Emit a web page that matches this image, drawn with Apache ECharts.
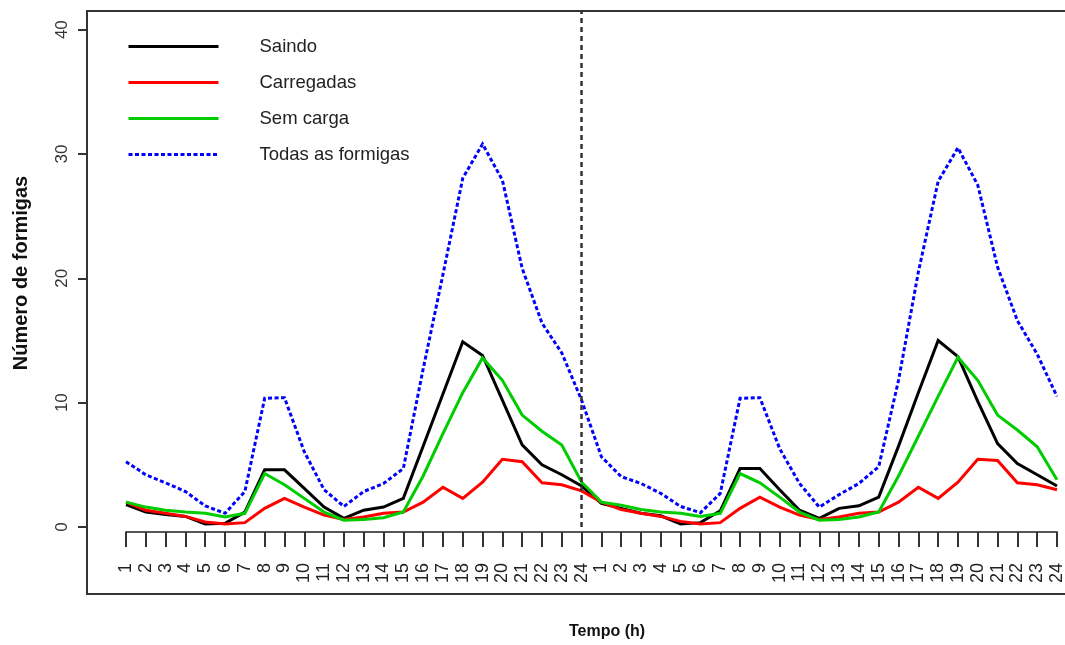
<!DOCTYPE html>
<html>
<head>
<meta charset="utf-8">
<script src="https://cdn.jsdelivr.net/npm/echarts@6/dist/echarts.min.js"></script>
<style>
  html, body { margin: 0; padding: 0; background: #fff; overflow: hidden; width: 1065px; height: 645px; }
  #chart { width: 1120px; height: 645px; }
</style>
</head>
<body>
<div id="chart"></div>
<script>
// Hour labels for two consecutive days
const hourLabels = ['1','2','3','4','5','6','7','8','9','10','11','12','13','14','15','16','17','18','19','20','21','22','23','24',
                    '1','2','3','4','5','6','7','8','9','10','11','12','13','14','15','16','17','18','19','20','21','22','23','24'];

const seriesNames = ['Saindo', 'Carregadas', 'Sem carga', 'Todas as formigas'];

// Mean number of ants per hour
const saindo = [1.8, 1.2, 1.0, 0.85, 0.25, 0.3, 1.2, 4.6, 4.6, 3.1, 1.6, 0.7, 1.35, 1.6, 2.3, 6.5, 10.7, 14.9, 13.8, 10.2, 6.6, 5.0, 4.2, 3.3,
                1.9, 1.5, 1.1, 0.9, 0.25, 0.35, 1.3, 4.7, 4.7, 3.0, 1.35, 0.7, 1.5, 1.7, 2.4, 6.5, 10.8, 15.0, 13.7, 10.1, 6.7, 5.1, 4.2, 3.3];
const carregadas = [2.0, 1.35, 1.1, 0.85, 0.4, 0.25, 0.35, 1.5, 2.3, 1.6, 0.95, 0.6, 0.8, 1.1, 1.2, 2.0, 3.2, 2.3, 3.6, 5.45, 5.25, 3.55, 3.4, 2.9,
                    2.0, 1.4, 1.1, 0.85, 0.45, 0.25, 0.35, 1.5, 2.4, 1.6, 0.95, 0.6, 0.8, 1.1, 1.2, 2.0, 3.2, 2.3, 3.6, 5.45, 5.35, 3.55, 3.4, 3.0];
const semCarga = [2.0, 1.6, 1.35, 1.2, 1.1, 0.8, 1.1, 4.3, 3.4, 2.3, 1.2, 0.55, 0.6, 0.75, 1.2, 4.1, 7.5, 10.8, 13.6, 11.8, 9.0, 7.7, 6.6, 3.6,
                  2.0, 1.75, 1.4, 1.2, 1.1, 0.85, 1.1, 4.3, 3.55, 2.4, 1.2, 0.55, 0.6, 0.8, 1.2, 4.1, 7.3, 10.5, 13.65, 11.8, 9.0, 7.8, 6.45, 3.8];
const todas = [5.25, 4.2, 3.55, 2.85, 1.7, 1.1, 2.85, 10.35, 10.4, 6.05, 3.0, 1.65, 2.85, 3.5, 4.7, 12.7, 20.3, 28.05, 30.8, 27.9, 20.8, 16.4, 14.0, 10.2,
               5.65, 4.05, 3.5, 2.7, 1.65, 1.15, 2.7, 10.35, 10.4, 6.3, 3.5, 1.6, 2.6, 3.5, 4.85, 11.8, 20.5, 27.8, 30.5, 27.5, 20.9, 16.6, 13.9, 10.5];

const yTicks = [0, 10, 20, 30, 40];
const dayBoundary = 24;   // end of the first day on the hour scale

const FONT = '"Liberation Sans", Arial, Helvetica, sans-serif';
const toPoints = vals => vals.map((v, i) => [i + 1, v]);

const chart = echarts.init(document.getElementById('chart'), null, { renderer: 'canvas' });

const lineSeries = (name, vals, color, dash) => ({
  name: name,
  type: 'line',
  xAxisIndex: 0,
  yAxisIndex: 0,
  data: toPoints(vals),
  symbol: 'none',
  smooth: false,
  animation: false,
  lineStyle: { color: color, width: 3, type: dash || 'solid', cap: 'butt', join: 'miter' },
  itemStyle: { color: color }
});

const series = [
  lineSeries(seriesNames[0], saindo, '#000000'),
  lineSeries(seriesNames[1], carregadas, '#ff0000'),
  lineSeries(seriesNames[2], semCarga, '#00cd00'),
  lineSeries(seriesNames[3], todas, '#0000ff', [4, 2.5])
];

// dotted separator between the two days
series[0].markLine = {
  silent: true,
  symbol: ['none', 'none'],
  label: { show: false },
  lineStyle: { color: '#333', type: [5, 4], width: 2.5 },
  data: [[{ coord: [dayBoundary, 0] }, { coord: [dayBoundary, 41.5] }]]
};

const option = {
  backgroundColor: '#ffffff',
  animation: false,
  textStyle: { fontFamily: FONT },
  grid: [
    { left: 87, top: 11, width: 1009, height: 583, show: true, borderColor: '#333', borderWidth: 2, backgroundColor: 'transparent' },
    { left: 126, top: 512, width: 931, height: 20 }
  ],
  xAxis: [
    { gridIndex: 0, type: 'value', min: -0.969, max: 49.969, show: false, axisLine: { onZero: false } },
    {
      gridIndex: 1, type: 'value', position: 'bottom', min: 1, max: 48, interval: 1,
      axisLine: { show: true, onZero: false, lineStyle: { color: '#555', width: 2 } },
      axisTick: { show: true, length: 15, lineStyle: { color: '#333', width: 2 } },
      splitLine: { show: false },
      axisLabel: {
        rotate: 90, margin: 31, fontSize: 18, color: '#222', fontFamily: FONT,
        formatter: v => hourLabels[v - 1] || ''
      }
    }
  ],
  yAxis: [
    {
      gridIndex: 0, type: 'value', min: -5.39, max: 41.5,
      axisLine: { show: false, onZero: false },
      axisTick: { show: true, inside: false, length: 9, customValues: yTicks, lineStyle: { color: '#333', width: 2 } },
      splitLine: { show: false },
      axisLabel: { customValues: yTicks, rotate: 90, margin: 16, fontSize: 17, color: '#333', fontFamily: FONT }
    },
    { gridIndex: 1, type: 'value', show: false, axisLine: { onZero: false } }
  ],
  legend: {
    orient: 'vertical',
    left: 127,
    top: 37,
    padding: 0,
    itemWidth: 90,
    itemHeight: 20,
    itemGap: 17,
    data: seriesNames,
    formatter: '{t|{name}}',
    itemStyle: { opacity: 0 },
    lineStyle: { width: 3, opacity: 1 },
    textStyle: {
      color: '#222', fontSize: 18.5, fontFamily: FONT,
      rich: { t: { color: '#222', fontSize: 18.5, fontFamily: FONT, padding: [0, 0, 0, 36] } }
    }
  },
  graphic: [
    {
      type: 'text', x: 21, y: 273, rotation: Math.PI / 2,
      style: { text: 'Número de formigas', font: 'bold 20px ' + FONT, fill: '#111', textAlign: 'center', textVerticalAlign: 'middle' }
    },
    {
      type: 'text', x: 607, y: 632,
      style: { text: 'Tempo (h)', font: 'bold 16px ' + FONT, fill: '#111', textAlign: 'center', textVerticalAlign: 'middle' }
    }
  ],
  series: series
};

chart.setOption(option);
</script>
</body>
</html>
